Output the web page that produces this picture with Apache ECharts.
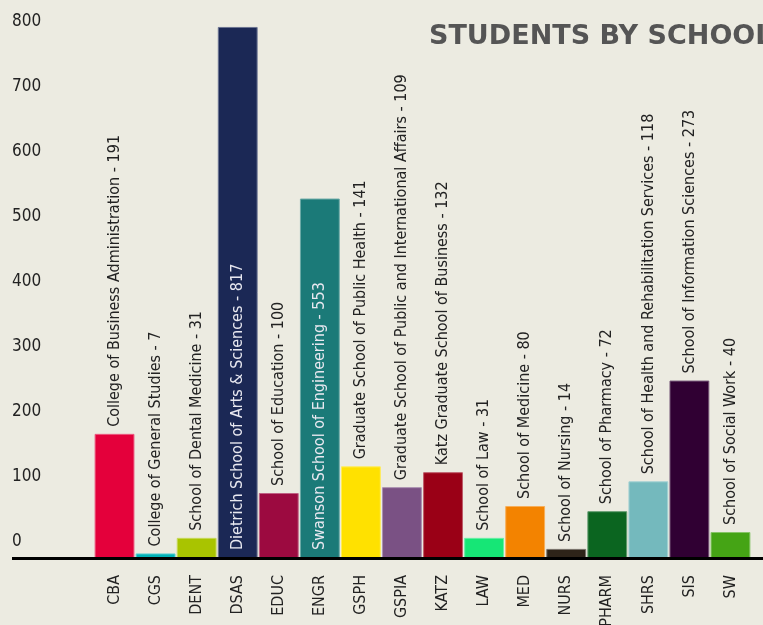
<!DOCTYPE html>
<html>
<head>
<meta charset="utf-8">
<script src="https://cdn.jsdelivr.net/npm/echarts@6/dist/echarts.min.js"></script>
<style>
html,body{margin:0;padding:0;background:#ecebe1;}
#c{width:763px;height:625px;}
</style>
</head>
<body>
<div id="c"></div>
<script>
const categories = ['CBA','CGS','DENT','DSAS','EDUC','ENGR','GSPH','GSPIA','KATZ','LAW','MED','NURS','PHARM','SHRS','SIS','SW'];
const schoolNames = [
  'College of Business Administration',
  'College of General Studies',
  'School of Dental Medicine',
  'Dietrich School of Arts & Sciences',
  'School of Education',
  'Swanson School of Engineering',
  'Graduate School of Public Health',
  'Graduate School of Public and International Affairs',
  'Katz Graduate School of Business',
  'School of Law',
  'School of Medicine',
  'School of Nursing',
  'School of Pharmacy',
  'School of Health and Rehabilitation Services',
  'School of Information Sciences',
  'School of Social Work'
];
const students = [191, 7, 31, 817, 100, 553, 141, 109, 132, 31, 80, 14, 72, 118, 273, 40];
const barColors = ['#e4003b','#00b2b8','#a9c400','#1b2855','#9c0a40','#1b7a78','#ffe100','#7a5184','#9a0016','#16e676','#f38300','#2e2419','#0b6520','#74b9bd','#300033','#45a415'];
const insideLabels = ['DSAS','ENGR'];
const yTicks = [0,100,200,300,400,500,600,700,800];

const FONT = '"Liberation Sans Narrow","DejaVu Sans Condensed","Roboto Condensed",sans-serif';

function lighten(hex, f){
  const n = parseInt(hex.slice(1),16);
  let r=(n>>16)&255,g=(n>>8)&255,b=n&255;
  r=Math.round(r+(255-r)*f);g=Math.round(g+(255-g)*f);b=Math.round(b+(255-b)*f);
  return 'rgb('+r+','+g+','+b+')';
}

const data = categories.map((c,i)=>{
  const inside = insideLabels.includes(c);
  return {
    value: students[i],
    itemStyle:{color:barColors[i], borderColor:lighten(barColors[i],0.35), borderWidth:1},
    label:{
      show:true,
      formatter: schoolNames[i]+' - '+students[i],
      position: inside ? 'insideBottom' : 'top',
      rotate:90,
      align:'left',
      verticalAlign:'middle',
      offset:[2,0],
      distance: inside ? 6 : 5,
      color: inside ? '#e8e8f0' : '#222',
      fontFamily: FONT,
      fontSize: 16
    }
  };
});

const chart = echarts.init(document.getElementById('c'), null, {renderer:'canvas'});
chart.setOption({
  backgroundColor:'#ecebe1',
  animation:false,
  title:{
    text:'STUDENTS BY SCHOOL',
    left:424, top:18,
    textStyle:{fontFamily:'"DejaVu Sans",sans-serif',fontWeight:'bold',fontSize:27,color:'#555555'}
  },
  grid:{left:94,right:12,top:38,bottom:67,containLabel:false,outerBoundsMode:'none'},
  xAxis:{
    type:'category',
    data:categories,
    axisLine:{show:false},
    axisTick:{show:false},
    axisLabel:{rotate:90,margin:17,fontFamily:FONT,fontSize:16,color:'#222',interval:0}
  },
  yAxis:{
    type:'value',
    min:yTicks[0], max:yTicks[yTicks.length-1], interval:100,
    splitLine:{show:false},
    axisLine:{show:false},
    axisTick:{show:false},
    axisLabel:{
      align:'left', margin:82, verticalAlign:'bottom', padding:[0,0,8,0],
      fontFamily:FONT, fontSize:17, color:'#222'
    }
  },
  series:[{
    type:'bar',
    data:data,
    barCategoryGap:'3%',
    clip:false,
    markLine:{
      silent:true,
      symbol:'none',
      label:{show:false},
      lineStyle:{color:'#000',width:3,type:'solid'},
      data:[[{coord:[0,0],x:12},{coord:[15,0],x:763}]]
    },
    z:2
  }]
});
</script>
</body>
</html>
